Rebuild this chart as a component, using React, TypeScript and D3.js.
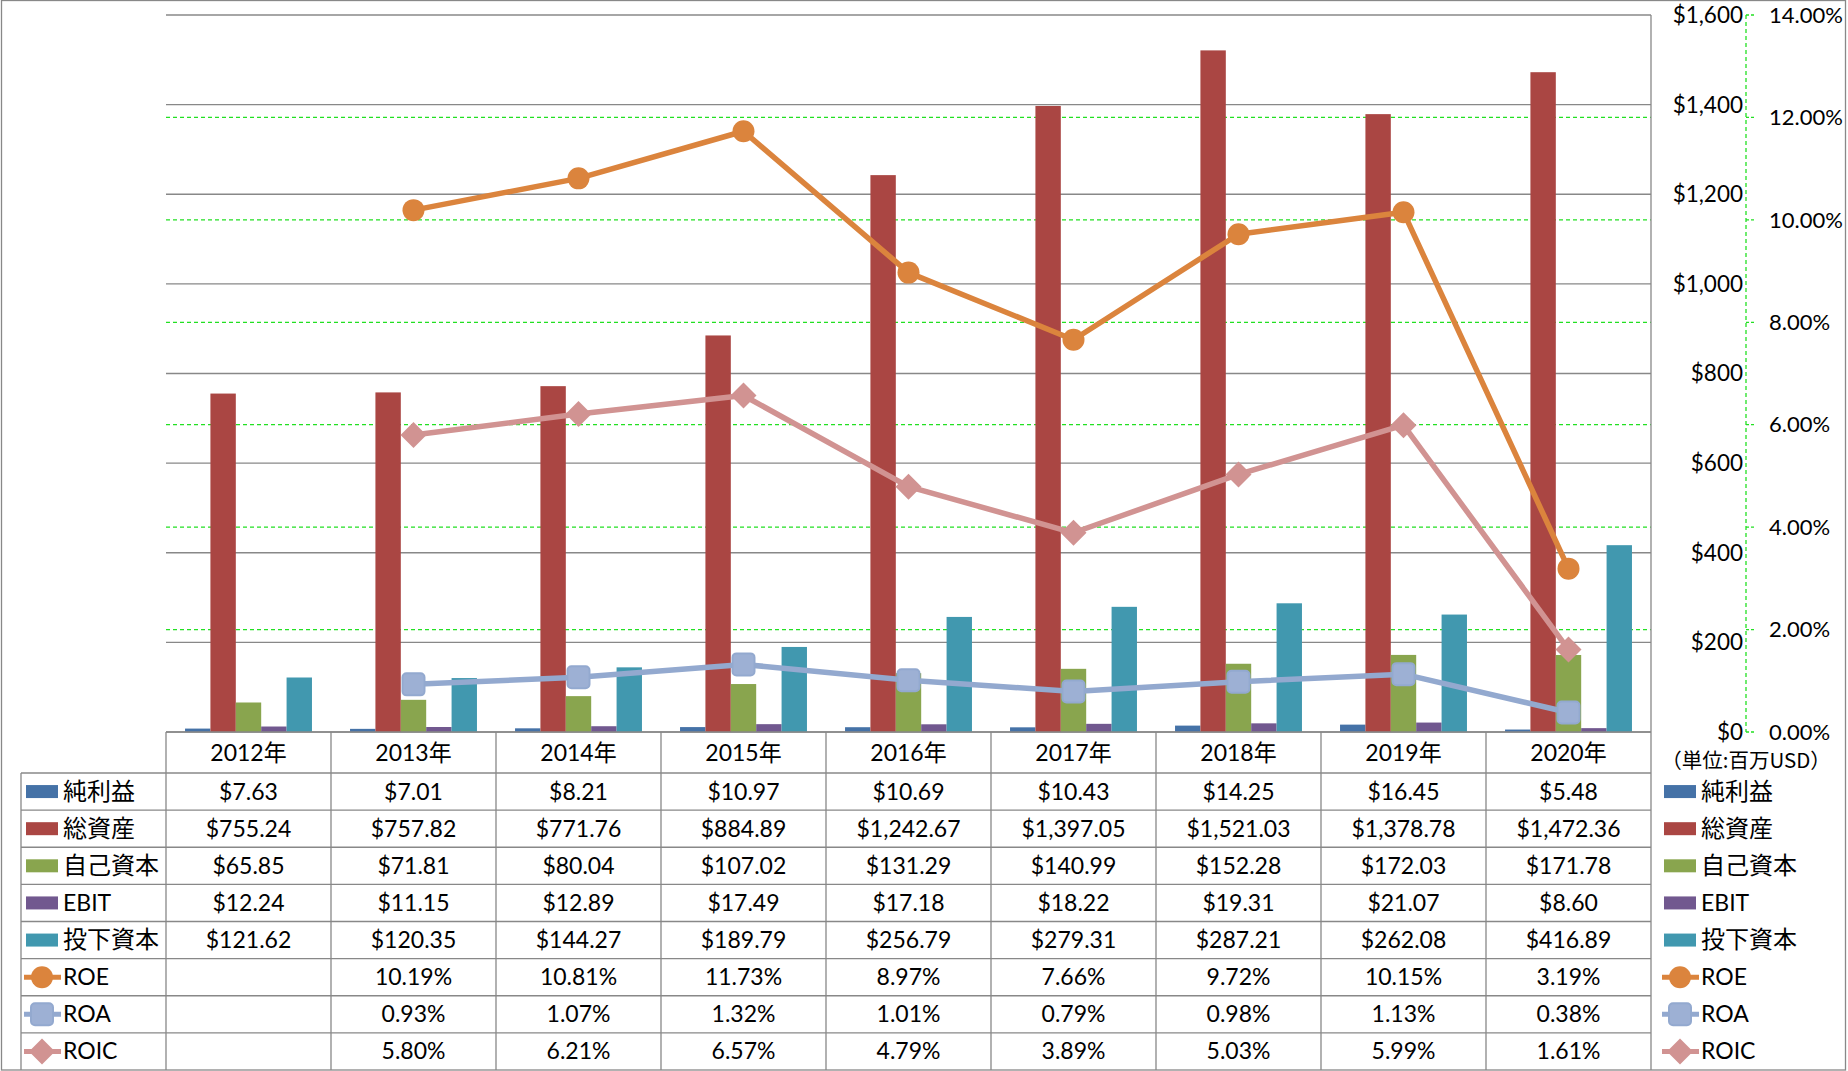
import React from "react";
import * as d3 from "d3";

const years = ["2012年", "2013年", "2014年", "2015年", "2016年", "2017年", "2018年", "2019年", "2020年"];
const netIncome = [7.63, 7.01, 8.21, 10.97, 10.69, 10.43, 14.25, 16.45, 5.48];
const totalAssets = [755.24, 757.82, 771.76, 884.89, 1242.67, 1397.05, 1521.03, 1378.78, 1472.36];
const equity = [65.85, 71.81, 80.04, 107.02, 131.29, 140.99, 152.28, 172.03, 171.78];
const ebit = [12.24, 11.15, 12.89, 17.49, 17.18, 18.22, 19.31, 21.07, 8.6];
const investedCapital = [121.62, 120.35, 144.27, 189.79, 256.79, 279.31, 287.21, 262.08, 416.89];
const roe: (number | null)[] = [null, 10.19, 10.81, 11.73, 8.97, 7.66, 9.72, 10.15, 3.19];
const roa: (number | null)[] = [null, 0.93, 1.07, 1.32, 1.01, 0.79, 0.98, 1.13, 0.38];
const roic: (number | null)[] = [null, 5.8, 6.21, 6.57, 4.79, 3.89, 5.03, 5.99, 1.61];
const leftTicks = [0, 200, 400, 600, 800, 1000, 1200, 1400, 1600];
const rightTicks = [0, 2, 4, 6, 8, 10, 12, 14];
const unitLabel = "（単位:百万USD）";

const barSeries = [
  { name: "純利益", values: netIncome, color: "#4572A7", cjk: true },
  { name: "総資産", values: totalAssets, color: "#AA4643", cjk: true },
  { name: "自己資本", values: equity, color: "#89A54E", cjk: true },
  { name: "EBIT", values: ebit, color: "#71588F", cjk: false },
  { name: "投下資本", values: investedCapital, color: "#4198AF", cjk: true },
];
const lineSeries = [
  { name: "ROE", values: roe, color: "#DB843D", marker: "circle" },
  { name: "ROA", values: roa, color: "#93A9CF", marker: "square" },
  { name: "ROIC", values: roic, color: "#D19392", marker: "diamond" },
];

const W = 1848;
const H = 1071;
const PL = 166, PR = 1651, PT = 15, PB = 732;
const TL = 21, TB = 1070, HEADER_B = 773;
const FONT = "Lato, 'Noto Sans CJK JP', sans-serif";
const CJK = "'Noto Sans CJK JP', Lato, sans-serif";
const GRID = "#888888";
const GREEN = "#22e022";
const FS = 23;

const fmtMoney = d3.format("$,.2f");
const fmtPct = (v: number) => d3.format(".2f")(v) + "%";

function Marker({ type, x, y, color }: { type: string; x: number; y: number; color: string }) {
  if (type === "circle") return <circle cx={x} cy={y} r={11} fill={color} />;
  if (type === "square")
    return <rect x={x - 11} y={y - 11} width={22} height={22} rx={4} fill="#9DB0D4" stroke={color} strokeWidth={2} />;
  const s = 13;
  return <path d={`M${x},${y - s}L${x + s},${y}L${x},${y + s}L${x - s},${y}Z`} fill={color} />;
}

function LegendIcon({ s, x, y }: { s: any; x: number; y: number }) {
  if (s.marker) {
    return (
      <g>
        <line x1={x - 2} x2={x + 35} y1={y} y2={y} stroke={s.color} strokeWidth={5} />
        <Marker type={s.marker} x={x + 16} y={y} color={s.color} />
      </g>
    );
  }
  return <rect x={x} y={y - 6.5} width={32} height={13} fill={s.color} />;
}

export default function App() {
  const x = d3.scaleBand<string>().domain(years).range([PL, PR]).paddingInner(0).paddingOuter(0);
  const xi = d3
    .scaleBand<string>()
    .domain(barSeries.map((s) => s.name))
    .range([0, x.bandwidth()])
    .paddingInner(0)
    .paddingOuter(0.75);
  const y = d3.scaleLinear().domain([0, 1600]).range([PB, PT]);
  const y2 = d3.scaleLinear().domain([0, 14]).range([PB, PT]);
  const rowNames = [...barSeries.map((s) => s.name), ...lineSeries.map((s) => s.name)];
  const rows = d3.scaleBand<string>().domain(rowNames).range([HEADER_B, TB]);
  const allSeries: any[] = [...barSeries, ...lineSeries];
  const cx = (yr: string) => (x(yr) as number) + x.bandwidth() / 2;

  const lineGen = d3
    .line<number | null>()
    .defined((d) => d != null)
    .x((_, i) => cx(years[i]))
    .y((d) => y2(d as number));

  return (
    <div style={{ position: "absolute", left: 0, top: 0 }}>
      <svg width={W} height={H} style={{ display: "block", background: "#fff" }} fontFamily={FONT}>
        {leftTicks.map((t) => (
          <line key={"g" + t} x1={PL} x2={PR} y1={y(t)} y2={y(t)} stroke={GRID} strokeWidth={1.3} />
        ))}
        {rightTicks
          .filter((t) => t > 0 && t < 14)
          .map((t) => (
            <line key={"g2" + t} x1={PL} x2={PR} y1={y2(t)} y2={y2(t)} stroke={GREEN} strokeWidth={1.3} strokeDasharray="4,3" />
          ))}
        {barSeries.map((s) =>
          s.values.map((v, i) => (
            <rect
              key={s.name + i}
              x={(x(years[i]) as number) + (xi(s.name) as number)}
              y={y(v)}
              width={xi.bandwidth()}
              height={PB - y(v)}
              fill={s.color}
            />
          ))
        )}
        <line x1={PL} x2={PR} y1={PB} y2={PB} stroke={GRID} strokeWidth={1.3} />
        {lineSeries.map((s) => (
          <g key={s.name}>
            <path d={lineGen(s.values) || ""} fill="none" stroke={s.color} strokeWidth={5.5} strokeLinejoin="round" />
            {s.values.map((v, i) =>
              v == null ? null : <Marker key={i} type={s.marker} x={cx(years[i])} y={y2(v)} color={s.color} />
            )}
          </g>
        ))}
        <line x1={PR} x2={PR} y1={PT} y2={TB} stroke={GRID} strokeWidth={1.3} />
        {leftTicks.map((t) => (
          <text key={"l" + t} x={1743} y={y(t)} dy="0.35em" textAnchor="end" fontSize={22.5} fill="#000">
            {d3.format("$,")(t)}
          </text>
        ))}
        <line x1={1746} x2={1746} y1={PT} y2={PB} stroke={GREEN} strokeWidth={1.3} strokeDasharray="4,3" />
        {rightTicks.map((t) => (
          <g key={"r" + t}>
            <line x1={1746} x2={1755} y1={y2(t)} y2={y2(t)} stroke={GREEN} strokeWidth={1.3} strokeDasharray="3,2" />
            <text x={1769} y={y2(t)} dy="0.35em" fontSize={22} fill="#000">
              {fmtPct(t)}
            </text>
          </g>
        ))}
        <text x={1746} y={761} dy="0.35em" textAnchor="middle" fontSize={20.5} fontFamily={CJK} fill="#000">
          {unitLabel}
        </text>
        {rowNames.map((r) => (
          <line key={"h" + r} x1={TL} x2={PR} y1={rows(r)} y2={rows(r)} stroke={GRID} strokeWidth={1.3} />
        ))}
        <line x1={TL} x2={TL} y1={HEADER_B} y2={TB} stroke={GRID} strokeWidth={1.3} />
        {years.map((yr) => (
          <line key={"v" + yr} x1={x(yr)} x2={x(yr)} y1={PB} y2={TB} stroke={GRID} strokeWidth={1.3} />
        ))}
        {years.map((yr) => (
          <text key={"c" + yr} x={cx(yr)} y={753} dy="0.35em" textAnchor="middle" fontSize={FS} fill="#000">
            {yr}
          </text>
        ))}
        {allSeries.map((s) => {
          const ry = (rows(s.name) as number) + rows.bandwidth() / 2;
          return (
            <g key={"row" + s.name}>
              <LegendIcon s={s} x={26} y={ry} />
              <text x={63} y={ry} dy="0.35em" fontSize={s.cjk ? 24 : FS} fontFamily={s.cjk ? CJK : FONT} fill="#000">
                {s.name}
              </text>
              {s.values.map((v: number | null, i: number) =>
                v == null ? null : (
                  <text key={i} x={cx(years[i])} y={ry} dy="0.35em" textAnchor="middle" fontSize={FS} fill="#000">
                    {s.marker ? fmtPct(v) : fmtMoney(v)}
                  </text>
                )
              )}
              <LegendIcon s={s} x={1664} y={ry} />
              <text x={1701} y={ry} dy="0.35em" fontSize={s.cjk ? 24 : FS} fontFamily={s.cjk ? CJK : FONT} fill="#000">
                {s.name}
              </text>
            </g>
          );
        })}
        <rect x={1.5} y={0.5} width={1844} height={1069.5} fill="none" stroke={GRID} strokeWidth={1.3} />
      </svg>
    </div>
  );
}
